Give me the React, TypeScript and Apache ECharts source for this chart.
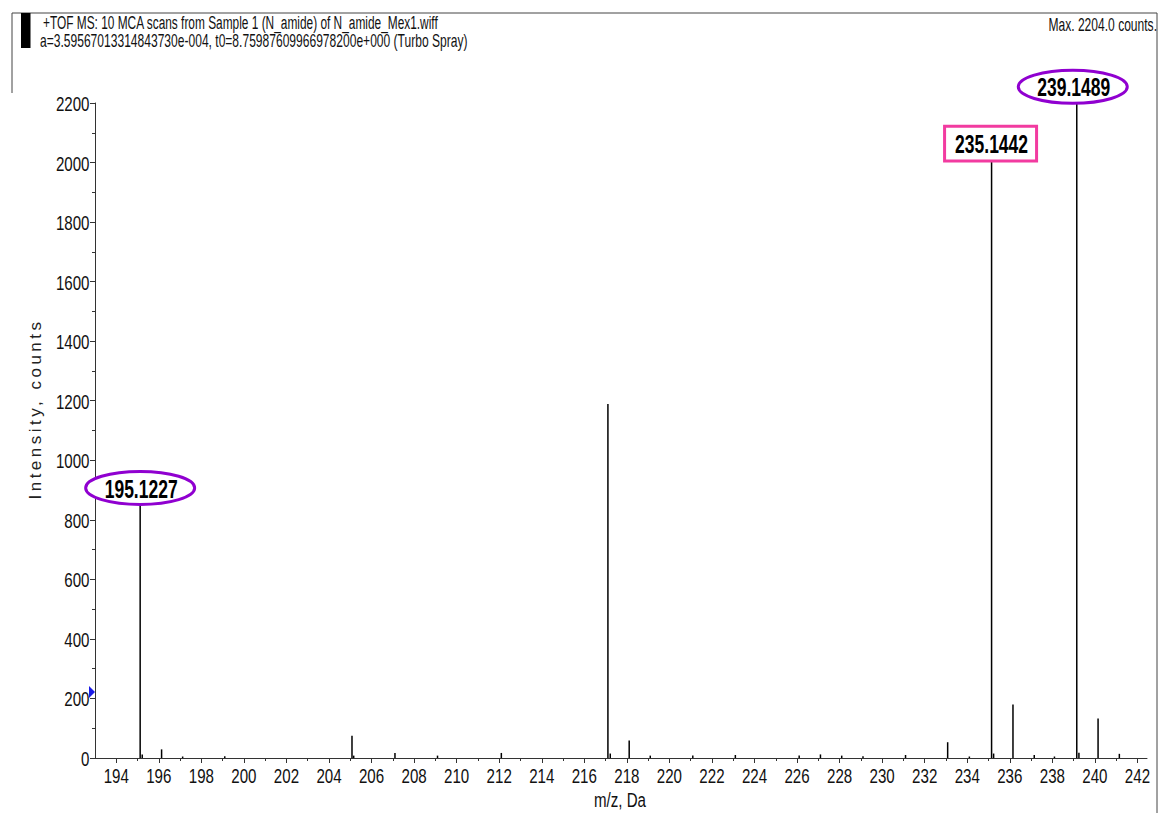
import React, { useEffect, useRef } from "react";
import * as echarts from "echarts";

const peakMz = [195.1227, 195.22, 196.13, 197.12, 199.1, 205.08, 205.16, 207.1, 209.1, 212.1, 217.11, 217.22, 218.11, 219.1, 221.1, 223.1, 226.1, 227.1, 228.1, 229.1, 231.1, 233.08, 234.1, 235.1442, 235.24, 236.15, 237.15, 238.1, 239.1489, 239.25, 240.15, 241.15];
const peakIntensity = [850, 12, 29, 5, 6, 75, 8, 17, 8, 17, 1189, 15, 59, 8, 8, 10, 8, 12, 8, 6, 10, 53, 5, 2020, 15, 180, 10, 5, 2204, 18, 133, 14];

const annotMz = [195.1227, 235.1442, 239.1489];
const annotIntensity = [850, 2020, 2204];
const annotLabels = ["195.1227", "235.1442", "239.1489"];
const annotShapes = ["ellipse", "rect", "ellipse"];

const xTickLabels = [194, 196, 198, 200, 202, 204, 206, 208, 210, 212, 214, 216, 218, 220, 222, 224, 226, 228, 230, 232, 234, 236, 238, 240, 242];
const xMinorTicks = [195, 197, 199, 201, 203, 205, 207, 209, 211, 213, 215, 217, 219, 221, 223, 225, 227, 229, 231, 233, 235, 237, 239, 241];
const yTickLabels = [0, 200, 400, 600, 800, 1000, 1200, 1400, 1600, 1800, 2000, 2200];
const yMin = 0;
const yMax = 2200;
const yInterval = 200;
const thresholdValue = 222;

const headerLine1 = "+TOF MS: 10 MCA scans from Sample 1 (N_amide) of N_amide_Mex1.wiff";
const headerLine2 = "a=3.59567013314843730e-004, t0=8.75987609966978200e+000 (Turbo Spray)";
const maxText = "Max. 2204.0 counts.";
const yName = "Intensity, counts";
const xName = "m/z, Da";

const SANS = '"Liberation Sans", Arial, sans-serif';

export default function App() {
  const ref = useRef<HTMLDivElement>(null);
  useEffect(() => {
    if (!ref.current) return;
    const chart = echarts.init(ref.current, undefined, { renderer: "svg" });
    const xMin = 193;
    const xMax = 242.45;
    const option: any = {
      animation: false,
      backgroundColor: "#ffffff",
      grid: { left: 95, right: 18, top: 103, bottom: 55 },
      xAxis: [
        {
          type: "value",
          min: xMin,
          max: xMax,
          position: "bottom",
          axisLine: { show: true, lineStyle: { color: "#333", width: 1 } },
          axisTick: { show: true, length: 5, customValues: xTickLabels, lineStyle: { color: "#333" } },
          axisLabel: { show: false },
          splitLine: { show: false },
        },
        {
          type: "value",
          min: xMin,
          max: xMax,
          position: "bottom",
          axisLine: { show: false },
          axisTick: { show: true, length: 3, customValues: xMinorTicks, lineStyle: { color: "#333" } },
          axisLabel: { show: false },
          splitLine: { show: false },
        },
      ],
      yAxis: {
        type: "value",
        min: yMin,
        max: yMax,
        interval: yInterval,
        axisLine: { show: true, lineStyle: { color: "#333", width: 1 } },
        axisTick: { show: true, length: 5, lineStyle: { color: "#333" } },
        minorTick: { show: true, splitNumber: 2, length: 3, lineStyle: { color: "#333" } },
        axisLabel: { show: false },
        splitLine: { show: false },
        minorSplitLine: { show: false },
      },
      series: [
        {
          type: "bar",
          xAxisIndex: 0,
          yAxisIndex: 0,
          barWidth: 1.5,
          itemStyle: { color: "#000" },
          data: peakMz.map((x, i) => [x, peakIntensity[i]]),
          markPoint: {
            symbol: "triangle",
            symbolSize: [12, 6],
            symbolRotate: -90,
            symbolOffset: [-3, 0],
            itemStyle: { color: "#1a1ae6" },
            label: { show: false },
            data: [{ coord: [xMin, thresholdValue] }],
          },
        },
      ],
    };
    chart.setOption(option);

    const staticGraphics: any[] = [
      { type: "line", shape: { x1: 12, y1: 13, x2: 1157, y2: 13 }, style: { stroke: "#444", lineWidth: 1 } },
      { type: "line", shape: { x1: 12, y1: 13, x2: 12, y2: 93 }, style: { stroke: "#444", lineWidth: 1 } },
      { type: "line", shape: { x1: 1157, y1: 13, x2: 1157, y2: 813 }, style: { stroke: "#444", lineWidth: 1 } },
      { type: "rect", shape: { x: 21, y: 13, width: 9.5, height: 35 }, style: { fill: "#000" } },
      { type: "text", x: 43, y: 23, scaleX: 0.66, style: { text: headerLine1, font: `18px ${SANS}`, fill: "#111", verticalAlign: "middle" } },
      { type: "text", x: 40, y: 41, scaleX: 0.67, style: { text: headerLine2, font: `18px ${SANS}`, fill: "#111", verticalAlign: "middle" } },
      { type: "text", x: 1157, y: 25, scaleX: 0.67, style: { text: maxText, font: `18px ${SANS}`, fill: "#111", align: "right", verticalAlign: "middle" } },
      { type: "text", x: 35, y: 409, rotation: Math.PI / 2, style: { text: yName, font: `17px ${SANS}`, fill: "#222", align: "center", verticalAlign: "middle" } },
    ];

    const tickGraphics: any[] = [];
    yTickLabels.forEach((v) => {
      const p = chart.convertToPixel({ xAxisIndex: 0, yAxisIndex: 0 }, [xMin, v]) as number[];
      tickGraphics.push({ type: "text", x: p[0] - 5.5, y: p[1] + 0.5, scaleX: 0.72, style: { text: String(v), font: `21px ${SANS}`, fill: "#111", align: "right", verticalAlign: "middle" } });
    });
    xTickLabels.forEach((v) => {
      const p = chart.convertToPixel({ xAxisIndex: 0, yAxisIndex: 0 }, [v, yMin]) as number[];
      tickGraphics.push({ type: "text", x: p[0], y: p[1] + 18, scaleX: 0.72, style: { text: String(v), font: `21px ${SANS}`, fill: "#111", align: "center", verticalAlign: "middle" } });
    });
    const pc = chart.convertToPixel({ xAxisIndex: 0, yAxisIndex: 0 }, [(xMin + xMax) / 2, yMin]) as number[];
    tickGraphics.push({ type: "text", x: pc[0] - 1, y: pc[1] + 42, scaleX: 0.72, style: { text: xName, font: `21px ${SANS}`, fill: "#111", align: "center", verticalAlign: "middle" } });

    const annotGraphics: any[] = [];
    const offsets = [
      [0, -17],
      [-1, -13],
      [-4, -15],
    ];
    annotMz.forEach((mz, i) => {
      const p = chart.convertToPixel({ xAxisIndex: 0, yAxisIndex: 0 }, [mz, annotIntensity[i]]) as number[];
      const cx = p[0] + offsets[i][0];
      const cy = p[1] + offsets[i][1];
      if (annotShapes[i] === "ellipse") {
        annotGraphics.push({ type: "ellipse", z: 100, shape: { cx, cy, rx: 54.5, ry: 16.5 }, style: { fill: "#fff", stroke: "#9000d0", lineWidth: 3 } });
      } else {
        annotGraphics.push({ type: "rect", z: 100, shape: { x: cx - 46, y: cy - 17.3, width: 92, height: 34.6 }, style: { fill: "#fff", stroke: "#f23ba0", lineWidth: 3 } });
      }
      annotGraphics.push({ type: "text", z: 101, x: cx + 1, y: cy + 1, scaleX: 0.7, style: { text: annotLabels[i], font: `bold 25px ${SANS}`, fill: "#000", align: "center", verticalAlign: "middle" } });
    });

    chart.setOption({ graphic: [...staticGraphics, ...tickGraphics, ...annotGraphics] });

    const svgTexts = ref.current.querySelectorAll("text");
    svgTexts.forEach((t) => {
      if (t.textContent === yName) {
        (t as SVGTextElement).style.letterSpacing = "3.5px";
      }
    });

    return () => chart.dispose();
  }, []);
  return <div ref={ref} style={{ position: "absolute", left: 0, top: 0, width: 1165, height: 813 }} />;
}
